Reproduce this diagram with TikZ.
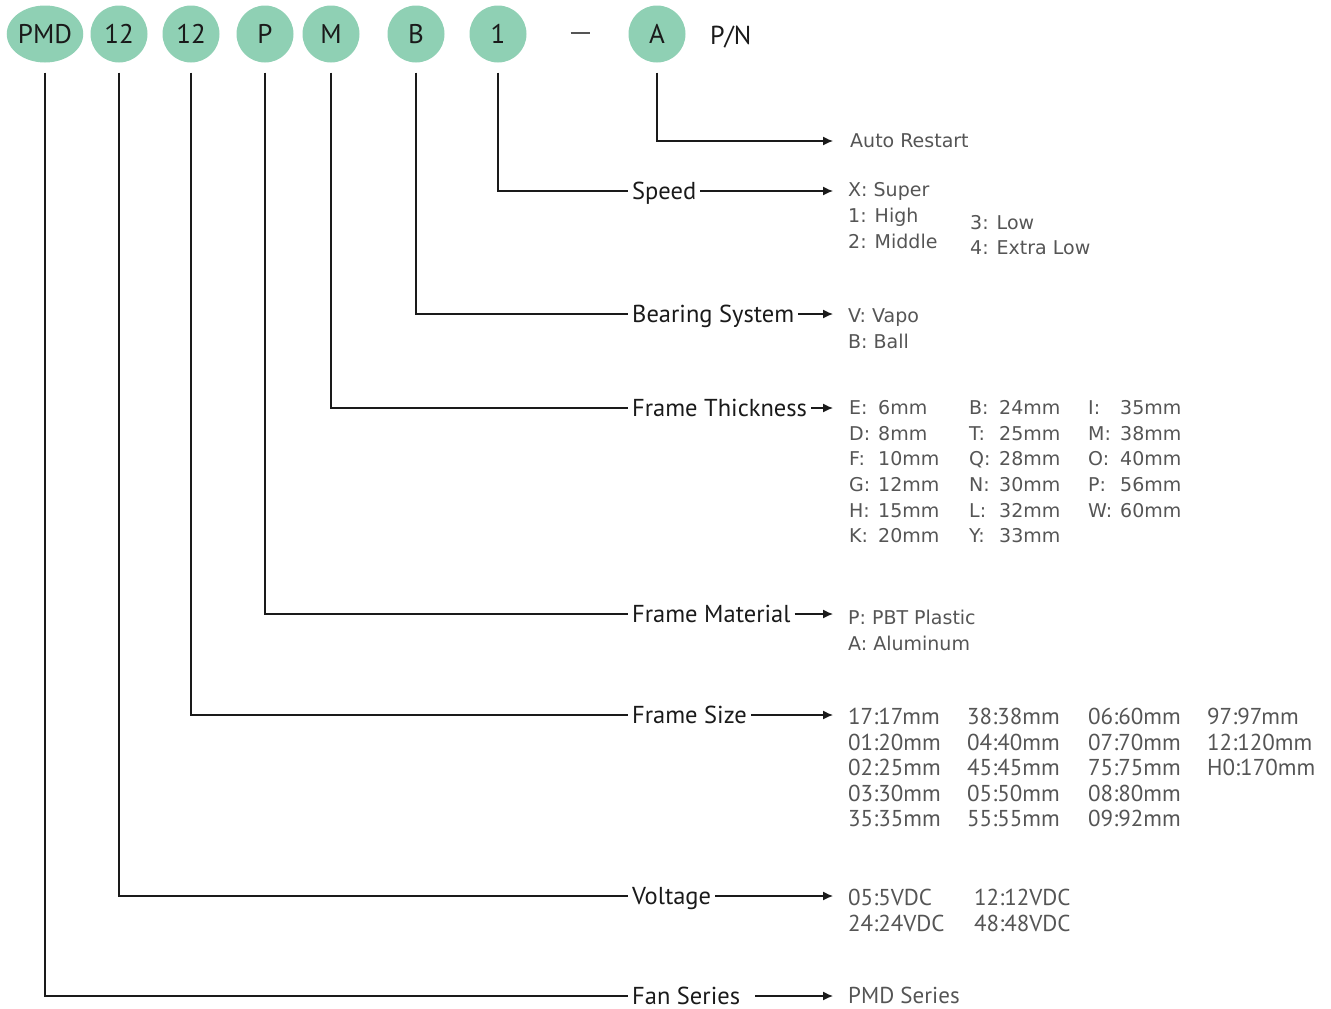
\documentclass[tikz,border=0pt]{standalone}
\usepackage{fontspec}
\setmainfont{PT Sans}
\newfontfamily\labfont{PT Sans}
\newfontfamily\optfont{DejaVu Sans}
\usetikzlibrary{shapes.geometric,arrows.meta}
\definecolor{mint}{HTML}{8FD0B4}
\definecolor{ink}{HTML}{1A1A1A}
\definecolor{opt}{HTML}{555555}
\begin{document}
\begin{tikzpicture}[x=1pt,y=-1pt,
  pill/.style={ellipse, fill=mint, minimum width=57pt, minimum height=57pt, inner sep=0pt, text=ink, font=\labfont\fontsize{27}{30}\selectfont},
  cat/.style={anchor=west, inner xsep=4pt, inner ysep=0pt, text height=17pt, text depth=0pt, text=ink, font=\labfont\fontsize{24.5}{28}\selectfont},
  optn/.style={anchor=west, inner sep=0pt, text height=13.5pt, text depth=0pt, text=opt, font=\optfont\fontsize{19}{22}\selectfont},
  optc/.style={anchor=west, inner sep=0pt, text height=15pt, text depth=0pt, text=opt, font=\labfont\fontsize{23}{26}\selectfont},
  conn/.style={draw=ink, line width=1.3pt, shorten <=10pt},
  arr/.style={draw=ink, line width=1.3pt, -{Latex[length=10pt,width=9pt]}}
]
\useasboundingbox (0,0) rectangle (1331,1009);
% code pills
\node[pill, minimum width=74pt] (ePMD) at (45,34) {PMD};
\node[pill] (eV) at (119,34) {12};
\node[pill] (eS) at (191,34) {12};
\node[pill] (eP) at (265,34) {P};
\node[pill] (eM) at (331,34) {M};
\node[pill] (eB) at (416,34) {B};
\node[pill] (e1) at (498,34) {1};
\node[inner sep=0pt, text=opt] (dash) at (580,33) {\rule{19pt}{1.4pt}};
\node[pill] (eA) at (657,34) {A};
\node[anchor=west, inner sep=0pt, text=ink, font=\labfont\fontsize{26}{28}\selectfont] (pn) at (710,37) {P/N};
% category labels
\node[cat] (lSpeed) at (628,191) {Speed};
\node[cat] (lBear) at (628,314) {Bearing System};
\node[cat] (lThick) at (628,408) {Frame Thickness};
\node[cat] (lMat) at (628,614) {Frame Material};
\node[cat] (lSize) at (628,715) {Frame Size};
\node[cat] (lVolt) at (628,896) {Voltage};
\node[cat] (lFan) at (628,996) {Fan Series};
% arrow targets
\coordinate (tA) at (833,141);
\coordinate (tSpeed) at (833,191);
\coordinate (tBear) at (833,314);
\coordinate (tThick) at (833,408);
\coordinate (tMat) at (833,614);
\coordinate (tSize) at (833,715);
\coordinate (tVolt) at (833,896);
\coordinate (tFan) at (833,996);
% connectors
\draw[arr, shorten <=10pt] (eA.south) |- (tA);
\draw[conn] (e1.south) |- (lSpeed.west);
\draw[conn] (eB.south) |- (lBear.west);
\draw[conn] (eM.south) |- (lThick.west);
\draw[conn] (eP.south) |- (lMat.west);
\draw[conn] (eS.south) |- (lSize.west);
\draw[conn] (eV.south) |- (lVolt.west);
\draw[conn] (ePMD.south) |- (lFan.west);
\draw[arr] (lSpeed.east) -- (tSpeed);
\draw[arr] (lBear.east) -- (tBear);
\draw[arr] (lThick.east) -- (tThick);
\draw[arr] (lMat.east) -- (tMat);
\draw[arr] (lSize.east) -- (tSize);
\draw[arr] (lVolt.east) -- (tVolt);
\draw[arr, shorten <=11pt] (lFan.east) -- (tFan);
% options
\node[optn] (oAuto) at (850,141) {Auto Restart};
\node[optn] (oX) at (848,190) {X: Super};
\node[optn] (o1) at (848,216) {1: High};
\node[optn] (o2) at (848,242) {2: Middle};
\node[optn] (o3) at (970,223) {3: Low};
\node[optn] (o4) at (970,248) {4: Extra Low};
\node[optn] (oVapo) at (848,316) {V: Vapo};
\node[optn] (oBall) at (848,342) {B: Ball};
% thickness
\foreach \k/\v [count=\i] in {E/6mm,D/8mm,F/10mm,G/12mm,H/15mm,K/20mm}
  \node[optn] (tc1r\i) at (849,{408+25.6*(\i-1)}) {\makebox[29pt][l]{\k:}\v};
\foreach \k/\v [count=\i] in {B/24mm,T/25mm,Q/28mm,N/30mm,L/32mm,Y/33mm}
  \node[optn] (tc2r\i) at (969,{408+25.6*(\i-1)}) {\makebox[30pt][l]{\k:}\v};
\foreach \k/\v [count=\i] in {I/35mm,M/38mm,O/40mm,P/56mm,W/60mm}
  \node[optn] (tc3r\i) at (1088,{408+25.6*(\i-1)}) {\makebox[32pt][l]{\k:}\v};
% material
\node[optn] (oPBT) at (848,618) {P: PBT Plastic};
\node[optn] (oAlu) at (848,644) {A: Aluminum};
% frame size
\foreach \t [count=\i] in {17:17mm,01:20mm,02:25mm,03:30mm,35:35mm}
  \node[optc] (sc1r\i) at (848,{717+25.5*(\i-1)}) {\t};
\foreach \t [count=\i] in {38:38mm,04:40mm,45:45mm,05:50mm,55:55mm}
  \node[optc] (sc2r\i) at (967,{717+25.5*(\i-1)}) {\t};
\foreach \t [count=\i] in {06:60mm,07:70mm,75:75mm,08:80mm,09:92mm}
  \node[optc] (sc3r\i) at (1088,{717+25.5*(\i-1)}) {\t};
\foreach \t [count=\i] in {97:97mm,12:120mm,H0:170mm}
  \node[optc] (sc4r\i) at (1207,{717+25.5*(\i-1)}) {\t};
% voltage
\node[optc] (v1) at (848,898) {05:5VDC};
\node[optc] (v2) at (974,898) {12:12VDC};
\node[optc] (v3) at (848,924) {24:24VDC};
\node[optc] (v4) at (974,924) {48:48VDC};
% series
\node[optc] (oPMD) at (848,996) {PMD Series};
\end{tikzpicture}
\end{document}
